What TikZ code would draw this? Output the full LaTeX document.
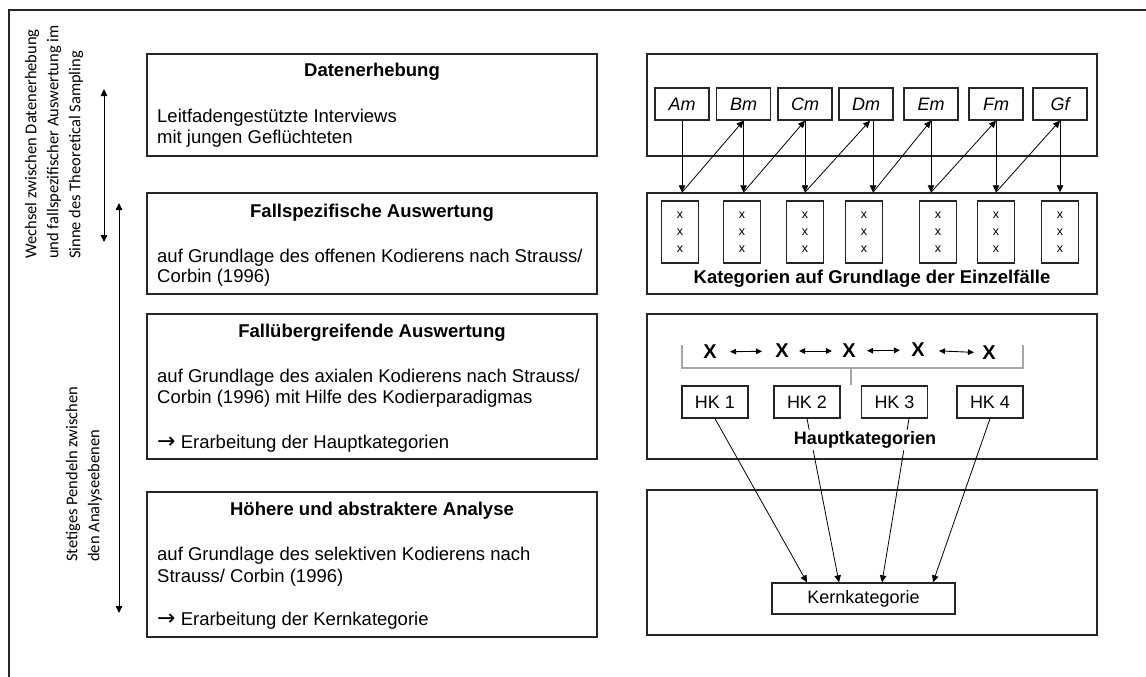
\documentclass[tikz,border=0pt]{standalone}
\usepackage{fontspec}
\setmainfont{Liberation Sans}
\newfontfamily\calib{Carlito}
\newfontfamily\dejavu{DejaVu Sans}
\usetikzlibrary{arrows.meta}
\begin{document}
\begin{tikzpicture}[x=1pt,y=-1pt,
  bigbox/.style={draw=black!85, line width=1.5pt, minimum width=450pt, inner sep=0pt},
  smallbox/.style={draw=black!85, line width=1.3pt, inner sep=0pt},
  txt/.style={font=\fontsize{18.5}{21}\selectfont, inner sep=0pt, anchor=base west},
  ttl/.style={font=\fontsize{18.5}{21}\selectfont\bfseries, inner sep=0pt, anchor=base},
  rot/.style={font=\calib\fontsize{16.5}{22}\selectfont, inner sep=0pt, align=left, rotate=90, anchor=west},
  arr/.style={line width=0.8pt, -{Triangle[length=7pt,width=6.5pt]}},
  dbl/.style={line width=0.8pt, {Triangle[length=7pt,width=6.5pt]}-{Triangle[length=7pt,width=6.5pt]}},
  sdbl/.style={line width=0.9pt, {Triangle[length=6pt,width=5.5pt]}-{Triangle[length=6pt,width=5.5pt]}},
  caseb/.style={smallbox, minimum width=54pt, minimum height=32pt, font=\fontsize{18}{20}\selectfont\itshape},
  xbox/.style={smallbox, minimum width=37pt, minimum height=62pt, align=center, font=\fontsize{12.5}{17}\selectfont},
  hk/.style={smallbox, minimum width=66pt, minimum height=32pt, font=\fontsize{18}{20}\selectfont},
  bigx/.style={inner sep=0pt, font=\fontsize{20}{20}\selectfont\bfseries}
]
\useasboundingbox (0,0) rectangle (1146,677);

% outer frame
\coordinate (fbl) at (9,677);
\coordinate (ftl) at (9,10);
\coordinate (ftr) at (1146,10);
\draw[line width=1.8pt, black!85] (fbl) -- (ftl) -- (ftr);

% left rotated texts and arrows
\node[rot] (w1) at (54,259) {Wechsel zwischen Datenerhebung\\und fallspezifischer Auswertung im\\Sinne des Theoretical Sampling};
\node[rot] (w2) at (84,562) {Stetiges Pendeln zwischen\\den Analyseebenen};
\coordinate (a1t) at (104,89);
\coordinate (a1b) at (104,242);
\coordinate (a2t) at (119,203);
\coordinate (a2b) at (119,613);
\draw[dbl] (a1t) -- (a1b);
\draw[dbl] (a2t) -- (a2b);

% left boxes
\node[bigbox, minimum height=102pt] (L1) at (372,105) {};
\node[bigbox, minimum height=101pt] (L2) at (372,243.5) {};
\node[bigbox, minimum height=145pt] (L3) at (372,386.5) {};
\node[bigbox, minimum height=145pt] (L4) at (372,564.5) {};

\node[ttl] (L1t) at (372,77) {Datenerhebung};
\node[txt] (L1a) at (157,122) {Leitfadengestützte Interviews};
\node[txt] (L1b) at (157,143) {mit jungen Geflüchteten};

\node[ttl] (L2t) at (372,217) {Fallspezifische Auswertung};
\node[txt] (L2a) at (157,262) {auf Grundlage des offenen Kodierens nach Strauss/};
\node[txt] (L2b) at (157,282) {Corbin (1996)};

\node[ttl] (L3t) at (372,337) {Fallübergreifende Auswertung};
\node[txt] (L3a) at (157,382) {auf Grundlage des axialen Kodierens nach Strauss/};
\node[txt] (L3b) at (157,403) {Corbin (1996) mit Hilfe des Kodierparadigmas};
\node[txt] (L3c) at (157,448) {{\dejavu\fontsize{22}{20}\selectfont →}\ Erarbeitung der Hauptkategorien};

\node[ttl] (L4t) at (372,515) {Höhere und abstraktere Analyse};
\node[txt] (L4a) at (157,560) {auf Grundlage des selektiven Kodierens nach};
\node[txt] (L4b) at (157,582) {Strauss/ Corbin (1996)};
\node[txt] (L4c) at (157,625) {{\dejavu\fontsize{22}{20}\selectfont →}\ Erarbeitung der Kernkategorie};

% right boxes
\node[bigbox, minimum height=102pt] (R1) at (872,105) {};
\node[bigbox, minimum height=101pt] (R2) at (872,243.5) {};
\node[bigbox, minimum height=145pt] (R3) at (872,386.5) {};
\node[bigbox, minimum height=145pt] (R4) at (872,562.5) {};

% case boxes
\node[caseb] (Am) at (682,104) {Am};
\node[caseb] (Bm) at (743.5,104) {Bm};
\node[caseb] (Cm) at (805,104) {Cm};
\node[caseb] (Dm) at (866,104) {Dm};
\node[caseb] (Em) at (931,104) {Em};
\node[caseb] (Fm) at (996,104) {Fm};
\node[caseb] (Gf) at (1060,104) {Gf};

% category boxes
\node[xbox] (K1) at (680,232) {x\\x\\x};
\node[xbox] (K2) at (742,232) {x\\x\\x};
\node[xbox] (K3) at (805,232) {x\\x\\x};
\node[xbox] (K4) at (864,232) {x\\x\\x};
\node[xbox] (K5) at (938,232) {x\\x\\x};
\node[xbox] (K6) at (996,232) {x\\x\\x};
\node[xbox] (K7) at (1060,232) {x\\x\\x};
\node[ttl] (Kt) at (872,283) {Kategorien auf Grundlage der Einzelfälle};

% vertical arrows
\draw[arr] (Am.south) -- (Am.south |- R2.north);
\draw[arr] (Bm.south) -- (Bm.south |- R2.north);
\draw[arr] (Cm.south) -- (Cm.south |- R2.north);
\draw[arr] ([xshift=7pt]Dm.south) -- ([xshift=7pt]Dm.south |- R2.north);
\draw[arr] (Em.south) -- (Em.south |- R2.north);
\draw[arr] (Fm.south) -- (Fm.south |- R2.north);
\draw[arr] (Gf.south) -- (Gf.south |- R2.north);
% diagonal arrows
\draw[arr] (Am.south |- R2.north) -- (Bm.south);
\draw[arr] (Bm.south |- R2.north) -- (Cm.south);
\draw[arr] (Cm.south |- R2.north) -- ([xshift=4pt]Dm.south);
\draw[arr] ([xshift=7pt]Dm.south |- R2.north) -- (Em.south);
\draw[arr] (Em.south |- R2.north) -- (Fm.south);
\draw[arr] (Fm.south |- R2.north) -- (Gf.south);

% third row
\node[bigx] (X1) at (710,352) {X};
\node[bigx] (X2) at (782,351) {X};
\node[bigx] (X3) at (849,351) {X};
\node[bigx] (X4) at (918,350) {X};
\node[bigx] (X5) at (989,353) {X};
\draw[sdbl, shorten <=20pt, shorten >=20pt] (X1.center) -- (X2.center);
\draw[sdbl, shorten <=17pt, shorten >=17pt] (X2.center) -- (X3.center);
\draw[sdbl, shorten <=18pt, shorten >=18pt] (X3.center) -- (X4.center);
\draw[sdbl, shorten <=21pt, shorten >=15pt] (X4.center) -- (X5.center);

\node[hk] (HK1) at (715,402) {HK 1};
\node[hk] (HK2) at (807,402) {HK 2};
\node[hk] (HK3) at (894.5,402) {HK 3};
\node[hk] (HK4) at (990,402) {HK 4};

\coordinate (bl) at (682,345);
\coordinate (br) at (1023,345);
\coordinate (bm) at (851,368);
\draw[black!35, line width=1.1pt] (bl) -- (bl |- bm) -- (br |- bm) -- (br);
\draw[black!35, line width=1.1pt] (bm) -- (bm |- HK2.north);

\node[smallbox, minimum width=183pt, minimum height=31pt, font=\fontsize{18}{20}\selectfont] (Kern) at (863.5,598.5) {Kernkategorie};

\draw[arr] (HK1.south) -- ([xshift=-56.5pt]Kern.north);
\draw[arr] (HK2.south) -- ([xshift=-24.5pt]Kern.north);
\draw[arr] ([xshift=14.5pt]HK3.south) -- ([xshift=18.5pt]Kern.north);
\draw[arr] (HK4.south) -- ([xshift=69.5pt]Kern.north);

\node[font=\fontsize{18}{20}\selectfont\bfseries, fill=white, inner sep=2pt] (Ht) at (865,440) {Hauptkategorien};
\end{tikzpicture}
\end{document}
